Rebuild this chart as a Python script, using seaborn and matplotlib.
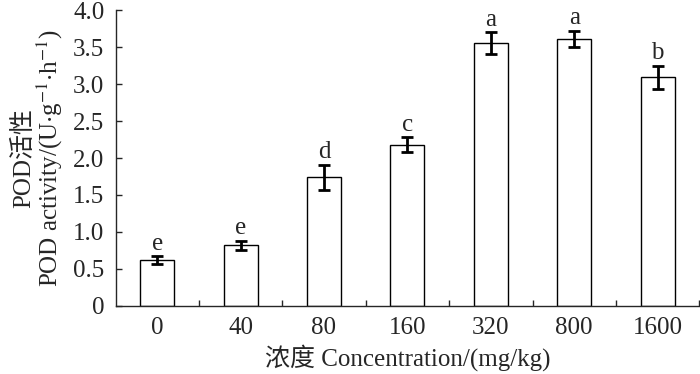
import pandas as pd
import matplotlib.pyplot as plt
import matplotlib.ticker as mticker
import seaborn as sns

# data
concentrations = ["0", "40", "80", "160", "320", "800", "1600"]
pod_activity = [0.62, 0.82, 1.74, 2.18, 3.55, 3.61, 3.09]
pod_error = [0.05, 0.06, 0.17, 0.10, 0.15, 0.11, 0.16]
sig_letters = ["e", "e", "d", "c", "a", "a", "b"]

df = pd.DataFrame({"conc": concentrations, "pod": pod_activity})

sns.set_style("ticks")
plt.rcParams['font.family'] = ['Liberation Serif', 'Noto Sans CJK SC']
plt.rcParams['mathtext.fontset'] = 'stix'

fig = plt.figure(figsize=(7, 3.74), dpi=100)
ax = fig.add_axes([0.165, 0.182, 0.834, 0.791])

sns.barplot(data=df, x="conc", y="pod", order=concentrations, color="white",
            edgecolor="black", linewidth=1.0, width=0.41, saturation=1, ax=ax)
ax.errorbar(range(len(concentrations)), pod_activity, yerr=pod_error, fmt="none",
            ecolor="black", elinewidth=2, capsize=4, capthick=2)

for i, (v, e, s) in enumerate(zip(pod_activity, pod_error, sig_letters)):
    ax.text(i, v + e + 0.02, s, ha="center", va="bottom", fontsize=18)

ax.set_xlim(-0.5, len(concentrations) - 0.5)
ax.set_ylim(0, 4.0)
ax.yaxis.set_major_locator(mticker.MultipleLocator(0.5))
ax.yaxis.set_major_formatter(mticker.FuncFormatter(lambda v, p: "0" if v == 0 else f"{v:.1f}"))
ax.set_xticks(range(len(concentrations)))
ax.set_xticklabels(concentrations)
ax.set_xticks([i + 0.5 for i in range(len(concentrations))], minor=True)
ax.tick_params(axis="x", which="major", length=0, pad=8, labelsize=18)
ax.tick_params(axis="x", which="minor", direction="in", length=4, width=1)
ax.tick_params(axis="y", direction="in", length=4, width=1, labelsize=18, pad=8)

for side in ["top", "right"]:
    ax.spines[side].set_visible(False)
for side in ["left", "bottom"]:
    ax.spines[side].set_linewidth(1.0)

ax.set_xlabel("浓度 Concentration/(mg/kg)", fontsize=18, labelpad=4)
ax.set_ylabel("POD活性\nPOD activity/(U$\\cdot$g$^{-1}$$\\cdot$h$^{-1}$)",
              fontsize=18, labelpad=6, linespacing=0.95)

fig.savefig("out.png", dpi=100)
